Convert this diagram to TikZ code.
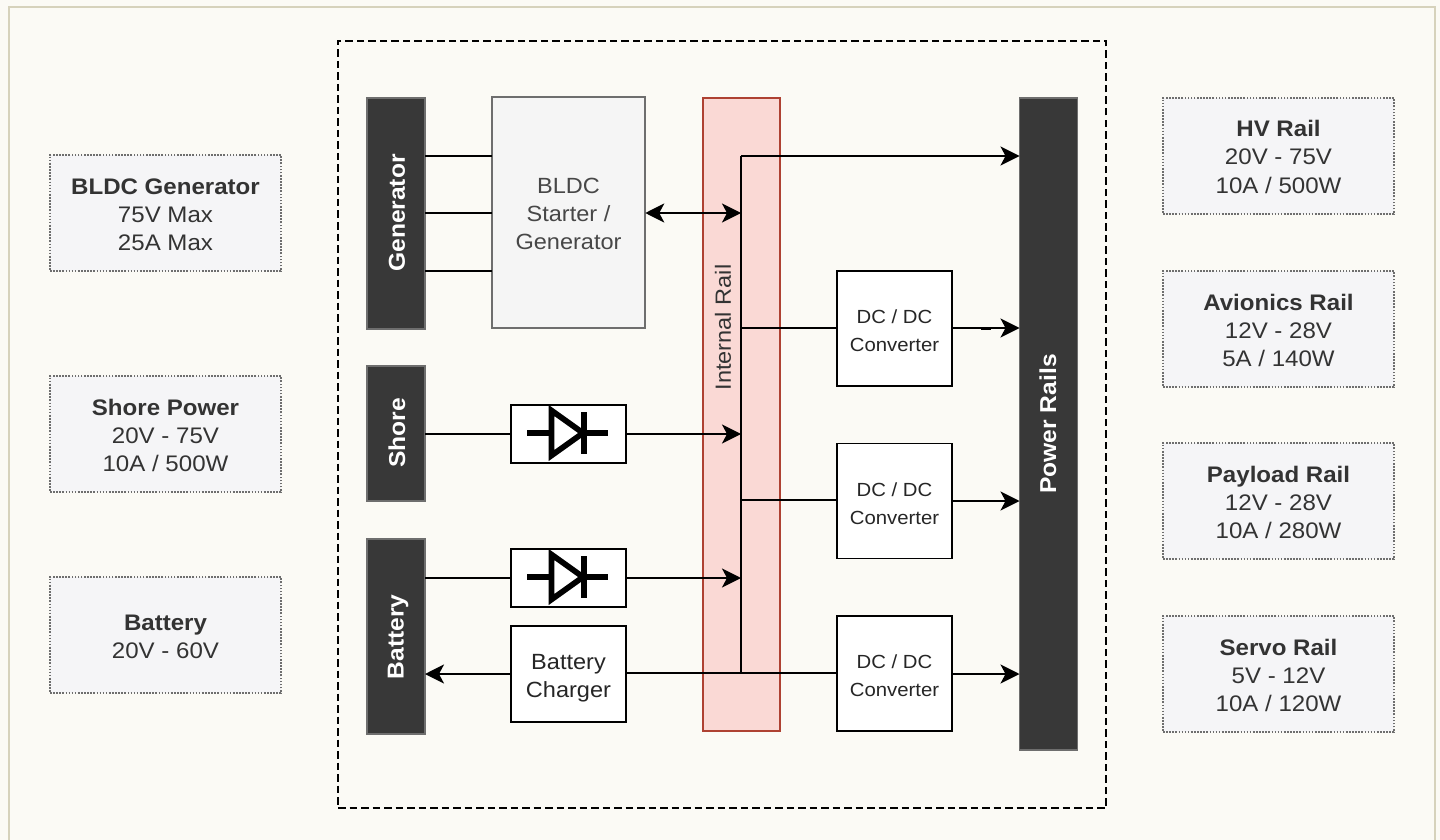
\documentclass[tikz,border=0pt]{standalone}
\usepackage{fontspec}
\setmainfont[FakeStretch=1.07]{Liberation Sans}
\usetikzlibrary{arrows.meta,calc}
\definecolor{pagebg}{HTML}{FBFAF5}
\definecolor{frameline}{HTML}{D6D2BC}
\definecolor{infofill}{HTML}{F5F5F7}
\definecolor{inkdark}{HTML}{333333}
\definecolor{railfill}{HTML}{FAD9D5}
\definecolor{railline}{HTML}{AE4132}
\definecolor{barfill}{HTML}{383838}
\definecolor{barline}{HTML}{6E6E6E}
\tikzset{
  pic base/.style={inner sep=0pt,outer sep=0pt,align=center},
  infobox/.style={pic base,draw=barline,fill=infofill,line width=1.6pt,dash pattern=on 1.6pt off 1.5pt,
    minimum width=231pt,minimum height=116pt,text=inkdark,font=\fontsize{22.5}{28}\selectfont},
  barbox/.style={pic base,draw=barline,fill=barfill,line width=1.6pt,minimum width=58pt},
  bartext/.style={pic base,text=white,rotate=90,font=\fontsize{23}{28}\selectfont\bfseries},
  whitebox/.style={pic base,draw=black,fill=white,line width=1.6pt,minimum width=115pt,text=black!85},
  dcbox/.style={whitebox,minimum height=115pt,font=\fontsize{19}{28}\selectfont},
  diodebox/.style={whitebox,minimum height=58pt},
  wire/.style={draw=black,line width=2pt},
  arrowwire/.style={wire,-{Stealth[length=19pt,width=19pt,inset=5pt]}},
  biwire/.style={wire,{Stealth[length=19pt,width=19pt,inset=5pt]}-{Stealth[length=19pt,width=19pt,inset=5pt]}},
  diodeline/.style={draw=black,line width=5.7pt},
}
\newcommand{\Ln}[1]{\raisebox{0pt}[18pt][0pt]{#1}}
\newcommand{\infotext}[2]{\Ln{\textbf{#1}}\\#2}
\newcommand{\drawdiode}[1]{%
  \draw[diodeline] ($(#1)+(-41.5,-1)$) -- ($(#1)+(-17,-1)$);
  \draw[diodeline] ($(#1)+(15,-1)$) -- ($(#1)+(39.5,-1)$);
  \draw[diodeline,fill=white,miter limit=10] ($(#1)+(-17,-23.5)$) -- ($(#1)+(14.5,-1)$) -- ($(#1)+(-17,21.5)$) -- cycle;
  \draw[draw=black,line width=6pt] ($(#1)+(15.5,-22)$) -- ($(#1)+(15.5,20)$);
}
\begin{document}
\begin{tikzpicture}[x=1pt,y=-1pt]
\useasboundingbox (0,0) rectangle (1440,840);
\fill[pagebg] (0,0) rectangle (1440,840);
\draw[frameline,line width=2.4pt] (9,840) -- (9,7) -- (1435,7) -- (1435,840);

% info boxes
\node[infobox] (iGen) at (165.5,213) {\infotext{BLDC Generator}{\Ln{75V Max}\\\Ln{25A Max}}};
\node[infobox] (iShore) at (165.5,434) {\infotext{Shore Power}{\Ln{20V - 75V}\\\Ln{10A / 500W}}};
\node[infobox] (iBat) at (165.5,635) {\infotext{Battery}{\Ln{20V - 60V}}};
\node[infobox] (iHV) at (1278.5,156) {\infotext{HV Rail}{\Ln{20V - 75V}\\\Ln{10A / 500W}}};
\node[infobox] (iAv) at (1278.5,329) {\infotext{Avionics Rail}{\Ln{12V - 28V}\\\Ln{5A / 140W}}};
\node[infobox] (iPay) at (1278.5,501) {\infotext{Payload Rail}{\Ln{12V - 28V}\\\Ln{10A / 280W}}};
\node[infobox] (iServo) at (1278.5,674) {\infotext{Servo Rail}{\Ln{5V - 12V}\\\Ln{10A / 120W}}};

% system outline
\node[pic base,draw=black,line width=1.8pt,dash pattern=on 7.5pt off 4pt,minimum width=768pt,minimum height=767pt] (sys) at (722,424.5) {};

% internal rail
\node[pic base,draw=railline,fill=railfill,line width=1.6pt,minimum width=77pt,minimum height=633pt] (rail) at (741.5,414.5) {};

% bars
\node[barbox,minimum height=231pt] (gen) at (396,213.5) {};
\node[barbox,minimum height=135pt] (shore) at (396,433.5) {};
\node[barbox,minimum height=195pt] (bat) at (396,636.5) {};
\node[barbox,minimum height=652pt] (pr) at (1048.5,424) {};

% blocks
\node[pic base,draw=barline,fill=black!4,line width=1.6pt,minimum width=153.5pt,minimum height=231pt,text=black!72,font=\fontsize{22}{28}\selectfont] (bldc) at (568.5,212.5) {\Ln{BLDC}\\\Ln{Starter /}\\\Ln{Generator}};
\node[diodebox] (d1) at (568.5,434) {};
\node[diodebox] (d2) at (568.5,578) {};
\node[whitebox,minimum height=96pt,font=\fontsize{22}{28}\selectfont] (chg) at (568.5,674) {\Ln{Battery}\\\Ln{Charger}};
\node[dcbox] (dc1) at (894.5,328.5) {\Ln{DC / DC}\\\Ln{Converter}};
\node[dcbox] (dc2) at (894.5,501) {\Ln{DC / DC}\\\Ln{Converter}};
\node[dcbox] (dc3) at (894.5,673.5) {\Ln{DC / DC}\\\Ln{Converter}};

\drawdiode{d1}
\drawdiode{d2}

% levels and bus
\coordinate (yA) at (0,156);
\coordinate (yB) at (0,213);
\coordinate (yC) at (0,271);
\coordinate (yD) at (0,328);
\coordinate (yE) at (0,434);
\coordinate (yF) at (0,500);
\coordinate (yG) at (0,501);
\coordinate (yH) at (0,578);
\coordinate (yI) at (0,673);
\coordinate (yJ) at (0,674);
\coordinate (busX) at (741,0);
\coordinate (busT) at (busX |- yA);
\coordinate (busB) at (busX |- yI);
\coordinate (tickA) at (981,0);
\coordinate (tickB) at (991,0);

\draw[wire] (gen.east |- yA) -- (bldc.west |- yA);
\draw[wire] (gen.east |- yB) -- (bldc.west |- yB);
\draw[wire] (gen.east |- yC) -- (bldc.west |- yC);
\draw[biwire] (bldc.east |- yB) -- (busX |- yB);
\draw[wire] (shore.east |- yE) -- (d1.west |- yE);
\draw[arrowwire] (d1.east |- yE) -- (busX |- yE);
\draw[wire] (bat.east |- yH) -- (d2.west |- yH);
\draw[arrowwire] (d2.east |- yH) -- (busX |- yH);
\draw[arrowwire] (chg.west |- yJ) -- (bat.east |- yJ);
\draw[wire] (chg.east |- yI) -- (dc3.west |- yI);
\draw[wire] (busB) -- (busT);
\draw[arrowwire] (busT) -- (pr.west |- busT);
\draw[wire] (busX |- yD) -- (dc1.west |- yD);
\draw[wire] (busX |- yF) -- (dc2.west |- yF);
\draw[arrowwire] (dc1.east |- yD) -- (pr.west |- yD);
\draw[line width=3pt] (tickA |- yD) -- (tickB |- yD);
\draw[arrowwire] (dc2.east |- yG) -- (pr.west |- yG);
\draw[arrowwire] (dc3.east |- yJ) -- (pr.west |- yJ);

% labels
\node[bartext] (tGen) at (397,213) {Generator};
\node[bartext] (tShore) at (397,433) {Shore};
\node[bartext] (tBat) at (398,637) {Battery};
\node[bartext] (tPr) at (1048,424) {Power Rails};
\node[pic base,rotate=90,text=inkdark,font=\fontsize{22}{28}\selectfont] (tRail) at (723,327.5) {Internal Rail};
\end{tikzpicture}
\end{document}
